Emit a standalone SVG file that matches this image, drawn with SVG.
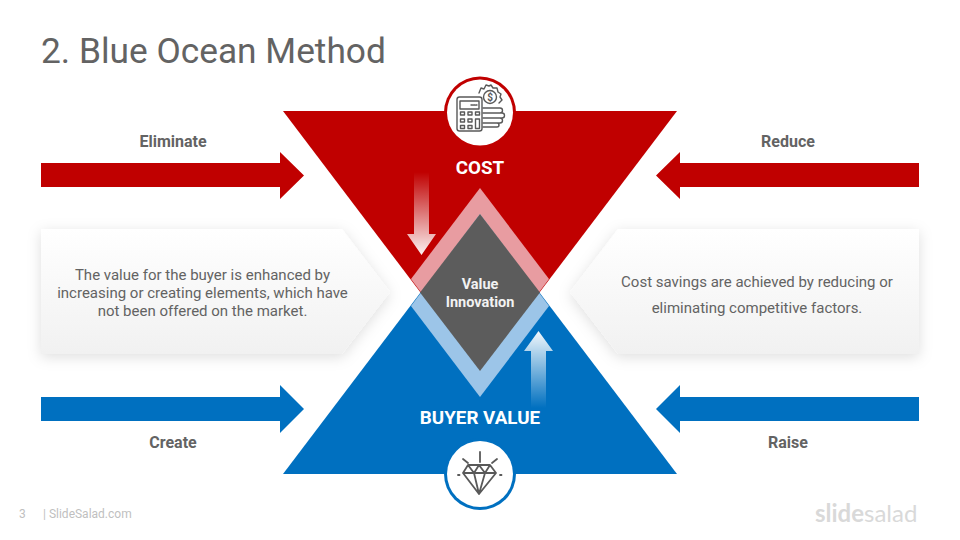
<svg xmlns="http://www.w3.org/2000/svg" width="960" height="540" viewBox="0 0 960 540">
<style>
text{font-family:Roboto,"Liberation Sans",sans-serif;text-anchor:middle}
.lab{font-size:16px;font-weight:700;fill:#636363}
.big{font-size:18.800px;font-weight:700;fill:#fff}
.val{font-size:14.500px;font-weight:700;fill:#f2f2f2}
.body{font-size:15px;fill:#636363}
.foot{font-size:12px;fill:#bfbfbf;text-anchor:start}
.ic{fill:none;stroke:#595959;stroke-width:1.4;stroke-linejoin:round;stroke-linecap:round}
.ic2{fill:none;stroke:#595959;stroke-width:1.8;stroke-linejoin:round;stroke-linecap:round}
.red{fill:#c00000}.blue{fill:#0070c0}
.card{fill:url(#card);filter:url(#sh)}
</style>
<defs>
<linearGradient id="card" x1="0" y1="0" x2="0" y2="1"><stop offset="0" stop-color="#fff"/><stop offset="1" stop-color="#f1f1f1"/></linearGradient>
<linearGradient id="down" x1="0" y1="0" x2="0" y2="1"><stop offset="0" stop-color="#fff" stop-opacity="0"/><stop offset="1" stop-color="#fff" stop-opacity=".95"/></linearGradient>
<linearGradient id="up" x1="0" y1="1" x2="0" y2="0"><stop offset="0" stop-color="#fff" stop-opacity="0"/><stop offset="1" stop-color="#fff" stop-opacity=".95"/></linearGradient>
<filter id="sh" x="-15%" y="-25%" width="130%" height="150%"><feDropShadow dx="0" dy="3" stdDeviation="7" flood-color="#000" flood-opacity=".13"/></filter>
</defs>
<rect width="960" height="540" fill="#fff"/>
<text x="41" y="63" style="font-size:35.300px;text-anchor:start" fill="#636363">2. Blue Ocean Method</text>

<g id="callout-left"><polygon class="card" points="41,229 342,229 390,292 342,354 41,354"/>
<text class="body" x="202.500" y="280">The value for the buyer is enhanced by</text>
<text class="body" x="202.500" y="298">increasing or creating elements, which have</text>
<text class="body" x="202.500" y="316">not been offered on the market.</text></g>
<g id="callout-right"><polygon class="card" points="919,229 618,229 570,292 618,354 919,354"/>
<text class="body" x="757" y="287">Cost savings are achieved by reducing or</text>
<text class="body" x="757" y="313">eliminating competitive factors.</text></g>

<g id="cost"><polygon class="red" points="283,111 677,111 480,371"/>
<text class="big" x="480" y="173.500">COST</text></g>
<g id="buyer-value"><polygon class="blue" points="283,474 677,474 480,214"/>
<text class="big" x="480" y="423.500">BUYER VALUE</text></g>

<g id="value-innovation">
<polygon fill="#e89ca1" points="480,188 549,279 480,371 411,279"/>
<polygon fill="#9cc5e8" points="480,397 549,306 480,214 411,306"/>
<polygon fill="#5c5c5c" points="480,214 540,292.500 480,371 420,292.500"/>
<text class="val" x="480" y="289">Value</text>
<text class="val" x="480" y="307">Innovation</text>
</g>

<g id="connectors">
<polygon class="red" points="41,163 280,163 280,152 304,175.500 280,199 280,187 41,187"/>
<polygon class="red" points="919,163 680,163 680,152 656,175.500 680,199 680,187 919,187"/>
<polygon class="blue" points="41,397 280,397 280,385 304,409 280,433 280,421 41,421"/>
<polygon class="blue" points="919,397 680,397 680,385 656,409 680,433 680,421 919,421"/>
<polygon fill="url(#down)" points="414,172 429,172 429,234 436,234 421.500,255 407,234 414,234"/>
<polygon fill="url(#up)" points="531,408 546,408 546,351 553,351 538.500,331 524,351 531,351"/>
</g>

<g id="icon-cost">
<circle cx="480" cy="112.500" r="36" fill="#c00000"/><circle cx="480" cy="112.500" r="33" fill="#fff"/>
<rect class="ic" x="457" y="97" width="25" height="34" rx="2.500"/>
<rect class="ic" x="460" y="101" width="19" height="8"/>
<path class="ic" d="M471 105h6" stroke-dasharray="1.500 1"/>
<g class="ic"><rect x="460.500" y="112" width="4" height="3"/><rect x="468" y="112" width="4" height="3"/><rect x="475.500" y="112" width="4" height="3"/>
<rect x="460.500" y="119" width="4" height="3"/><rect x="468" y="119" width="4" height="3"/><rect x="475.500" y="119" width="4" height="9.500"/>
<rect x="460.500" y="125.500" width="4" height="3"/><rect x="468" y="125.500" width="4" height="3"/></g>
<path class="ic" d="M483 108h17a2 2 0 0 1 0 5h-17M483 113h19a2 2 0 0 1 0 5h-19M483 118h17a2 2 0 0 1 0 5h-17M483 123h14a2 2 0 0 1 0 4h-14"/>
<path class="ic" d="M479 93l2-5 3 1 2-4 3 1 2-1 2 3 4 0 1 4 3 2-1 3 2 3-3 3"/>
<circle class="ic" cx="490" cy="97" r="6.500"/>
<text x="490" y="100.500" style="font-size:10px;font-weight:700" fill="#595959">$</text>
</g>

<g id="icon-value">
<circle cx="480" cy="474" r="36" fill="#0070c0"/><circle cx="480" cy="474" r="33" fill="#fff"/>
<path class="ic2" d="M468 465h22l6 8-17 21-16-21zM463 473h33M468 465l6 8 5-8 6 8 5-8M474 473l5 21 6-21"/>
<path class="ic2" d="M480 452v10M463 459l5 4M497 459l-5 4M458 475h1.500M500 475h1.500"/>
</g>

<g id="labels">
<text class="lab" x="173" y="147">Eliminate</text>
<text class="lab" x="788" y="147">Reduce</text>
<text class="lab" x="173" y="448">Create</text>
<text class="lab" x="788" y="448">Raise</text>
</g>

<g id="footer">
<text class="foot" x="19" y="518">3</text>
<text class="foot" x="43" y="518">| SlideSalad.com</text>
<text x="815" y="522" style="font-family:Lato,sans-serif;font-size:24px;text-anchor:start" fill="#d9d9d9"><tspan font-weight="700">slide</tspan>salad</text>
</g>
</svg>
